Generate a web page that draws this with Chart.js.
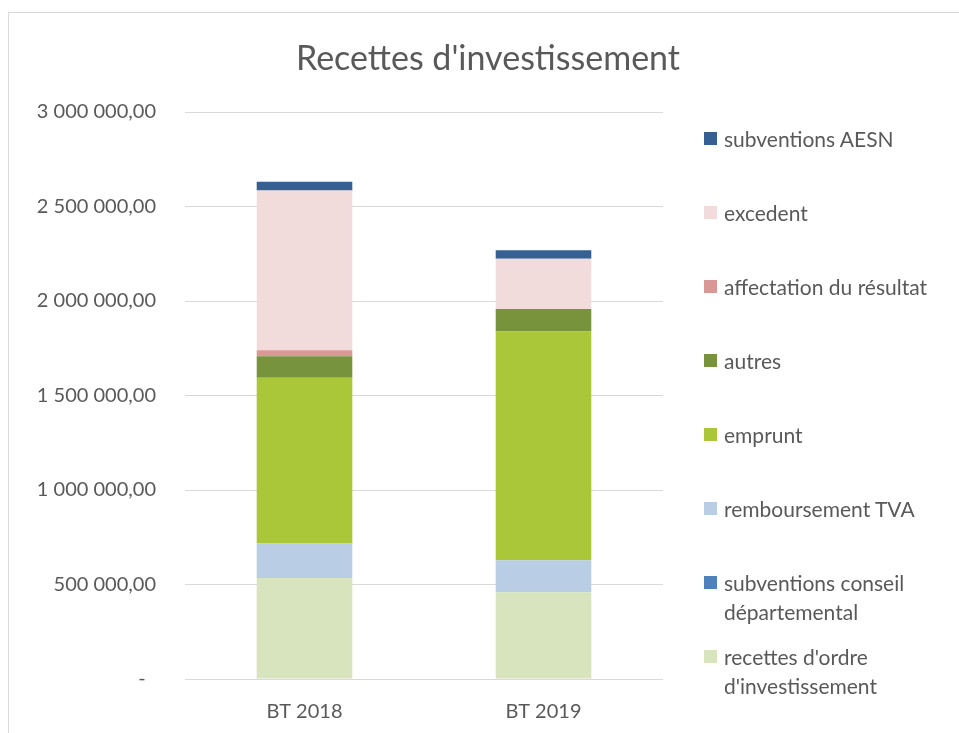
<!DOCTYPE html>
<html>
<head>
<meta charset="utf-8">
<script src="https://cdn.jsdelivr.net/npm/chart.js@4/dist/chart.umd.min.js"></script>
<style>
  html, body { margin: 0; padding: 0; background: #fff; overflow: hidden; }
  #wrap { position: relative; width: 959px; height: 733px; }
  #frame { position: absolute; left: 8px; top: 12px; width: 1000px; height: 800px; border: 1px solid #d9d9d9; box-sizing: border-box; }
  #chart { position: absolute; left: 0; top: 0; }
  #title { position: absolute; left: 288px; top: 35px; width: 400px; text-align: center; font-family: Lato, "Open Sans", sans-serif; font-size: 34px; line-height: 44px; color: #595959; }
  #legend { position: absolute; left: 704px; top: 124px; width: 255px; font-family: Lato, "Open Sans", sans-serif; font-size: 21px; color: #595959; }
  .item { display: flex; align-items: flex-start; height: 74px; line-height: 29px; }
  .box { width: 13px; height: 13px; margin-top: 8px; margin-right: 7px; flex: none; }
  .txt { width: 228px; }
</style>
</head>
<body>
<div id="wrap">
  <div id="frame"></div>
  <canvas id="chart" width="959" height="733"></canvas>
  <div id="title">Recettes d'investissement</div>
  <div id="legend"></div>
</div>
<script>
// Data (bottom of the stack first)
const categories = ['BT 2018', 'BT 2019'];
const seriesNames = [
    "recettes d'ordre d'investissement",
    'subventions conseil départemental',
    'remboursement TVA',
    'emprunt',
    'autres',
    'affectation du résultat',
    'excedent',
    'subventions AESN'
];
const recettesOrdre = [534000, 459000];
const subventionsCD = [0, 0];
const remboursementTVA = [183000, 169000];
const emprunt = [877000, 1211000];
const autres = [114000, 119000];
const affectation = [32000, 0];
const excedent = [845000, 266000];
const subventionsAESN = [46000, 45000];
const yTicks = [0, 500000, 1000000, 1500000, 2000000, 2500000, 3000000];

const seriesValues = [recettesOrdre, subventionsCD, remboursementTVA, emprunt, autres, affectation, excedent, subventionsAESN];
const seriesColors = ['#D7E4BD', '#4F81BD', '#B9CDE5', '#AAC739', '#77933C', '#D99795', '#F2DCDB', '#376092'];

const textColor = '#595959';
const fontFamily = 'Lato, "Open Sans", sans-serif';

// "3 000 000,00" style, "-" for zero
function formatFr(v) {
    if (v === 0) return '-  ';
    const parts = Math.round(v).toString().replace(/\B(?=(\d{3})+(?!\d))/g, ' ');
    return parts + ',00';
}

const datasets = seriesNames.map((name, i) => ({
    label: name,
    data: seriesValues[i],
    backgroundColor: seriesColors[i],
    borderWidth: 0,
    barPercentage: 0.4,
    categoryPercentage: 1.0
}));

const ctx = document.getElementById('chart').getContext('2d');
const chart = new Chart(ctx, {
    type: 'bar',
    data: { labels: categories, datasets: datasets },
    options: {
        responsive: false,
        animation: false,
        layout: { padding: { left: 0, right: 296, top: 112, bottom: 10 } },
        plugins: {
            legend: { display: false },
            tooltip: { enabled: false },
            title: { display: false }
        },
        scales: {
            x: {
                stacked: true,
                grid: { display: false, drawTicks: false },
                border: { display: false },
                afterFit: scale => { scale.height = 44; },
                ticks: { color: textColor, font: { family: fontFamily, size: 20 }, padding: 21 }
            },
            y: {
                stacked: true,
                min: 0,
                max: 3000000,
                afterBuildTicks: scale => { scale.ticks = yTicks.map(v => ({ value: v })); },
                afterFit: scale => { scale.width = 185; },
                grid: { color: '#d9d9d9', lineWidth: 1, drawTicks: false },
                border: { display: false },
                ticks: {
                    color: textColor,
                    font: { family: fontFamily, size: 20 },
                    padding: 29,
                    callback: v => formatFr(v)
                }
            }
        }
    }
});

// Legend on the right, top entry = top of the stack
const legend = document.getElementById('legend');
chart.data.datasets.slice().reverse().forEach(ds => {
    const item = document.createElement('div');
    item.className = 'item';
    const box = document.createElement('span');
    box.className = 'box';
    box.style.background = ds.backgroundColor;
    const txt = document.createElement('span');
    txt.className = 'txt';
    txt.textContent = ds.label;
    item.appendChild(box);
    item.appendChild(txt);
    legend.appendChild(item);
});
</script>
</body>
</html>
